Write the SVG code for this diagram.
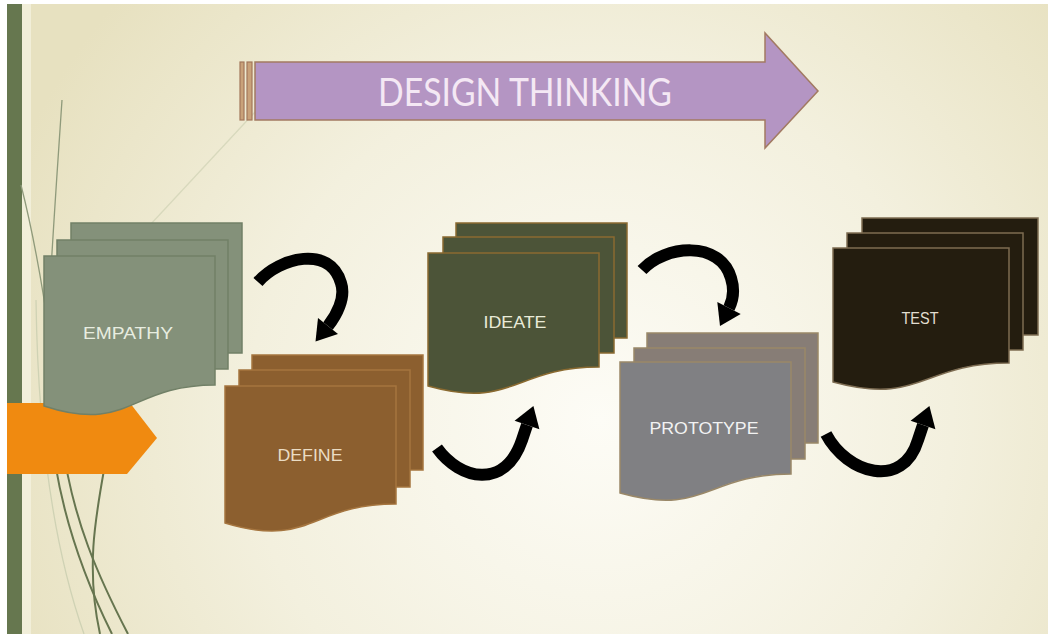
<svg xmlns="http://www.w3.org/2000/svg" width="1048" height="634" viewBox="0 0 1048 634">
  <defs>
    <radialGradient id="bg" cx="600" cy="420" r="640" gradientUnits="userSpaceOnUse">
      <stop offset="0" stop-color="#fdfcf6"/>
      <stop offset="0.55" stop-color="#f3f0de"/>
      <stop offset="1" stop-color="#e7e1c0"/>
    </radialGradient>
    <style>
      .label { font-family: "Liberation Sans", "DejaVu Sans", sans-serif; font-size: 17px; text-anchor: middle; }
      .title { font-family: "Lato", "Liberation Sans", sans-serif; font-size: 39px; text-anchor: middle; fill: #f4e8f4; }
      .wisp { fill: none; stroke: #66754f; stroke-width: 2; }
      .wisp-light { fill: none; stroke: #8f9a7b; stroke-width: 1.3; }
      .wisp-faint { fill: none; stroke: #cfd2b4; stroke-width: 1.3; }
      .flow { fill: none; stroke: #000; stroke-width: 12; stroke-linecap: butt; stroke-linejoin: round; }
      .head { fill: #000; }
      .page { stroke-width: 1.5; }
    </style>
  </defs>

  <!-- page background -->
  <rect width="1048" height="634" fill="#ffffff"/>
  <rect x="7" y="4" width="1041" height="630" fill="url(#bg)"/>
  <rect x="22" y="4" width="9" height="630" fill="#f5f3e2" opacity="0.7"/>
  <rect x="7" y="4" width="15" height="630" fill="#66774f"/>

  <!-- wispy decoration lines -->
  <g id="decoration">
    <path class="wisp-faint" d="M255,112 L150,225" opacity="0.7"/>
    <path class="wisp-faint" d="M36,300 C38,450 58,560 84,634"/>
    <path class="wisp-light" d="M62,100 C52,250 42,380 50,420"/>
    <path class="wisp" d="M50,420 C56,500 80,570 112,634"/>
    <path class="wisp-light" d="M21,185 C45,280 56,380 62,440"/>
    <path class="wisp" d="M62,440 C72,520 100,580 128,634"/>
    <path class="wisp" stroke-width="1.5" d="M104,470 C95,520 86,570 100,634"/>
  </g>

  <!-- title banner arrow -->
  <g id="title">
    <rect x="240" y="62" width="4" height="58" fill="#c9a27a" stroke="#a3775a" stroke-width="1.2"/>
    <rect x="247" y="62" width="5" height="58" fill="#c9a27a" stroke="#a3775a" stroke-width="1.2"/>
    <polygon points="255,62 765,62 765,33 818,91 765,148 765,120 255,120" fill="#b495c3" stroke="#a27a62" stroke-width="1.5"/>
    <text class="title" x="525" y="106" textLength="294" lengthAdjust="spacingAndGlyphs">DESIGN THINKING</text>
  </g>

  <!-- orange start marker -->
  <g id="start">
    <polygon points="7,403 130,403 157,438 127,474 7,474" fill="#f08a10"/>
  </g>

  <!-- EMPATHY -->
  <g id="empathy">
    <rect class="page" x="71" y="223" width="171" height="130" fill="#84917a" stroke="#718067"/>
    <rect class="page" x="57" y="240" width="171" height="129" fill="#84917a" stroke="#718067"/>
    <path class="page" d="M44,256 H215 V385 C129.5,385 129.5,434 44,406 Z" fill="#84917a" stroke="#718067"/>
    <text class="label" x="128" y="339" fill="#e8ede0" textLength="90" lengthAdjust="spacingAndGlyphs">EMPATHY</text>
  </g>

  <!-- DEFINE -->
  <g id="define">
    <rect class="page" x="252" y="355" width="171" height="115" fill="#8c5f2f" stroke="#a5753f"/>
    <rect class="page" x="239" y="370" width="171" height="117" fill="#8c5f2f" stroke="#a5753f"/>
    <path class="page" d="M225,386 H396 V504 C310.5,504 310.5,549 225,523 Z" fill="#8c5f2f" stroke="#a5753f"/>
    <text class="label" x="310" y="461" fill="#eadcc4" textLength="65" lengthAdjust="spacingAndGlyphs">DEFINE</text>
  </g>

  <!-- IDEATE -->
  <g id="ideate">
    <rect class="page" x="456" y="223" width="171" height="115" fill="#4c5438" stroke="#8a6a30"/>
    <rect class="page" x="443" y="237" width="171" height="116" fill="#4c5438" stroke="#8a6a30"/>
    <path class="page" d="M428,253 H599 V367 C513.5,367 513.5,410 428,386 Z" fill="#4c5438" stroke="#8a6a30"/>
    <text class="label" x="515" y="328" fill="#e9ebd8" textLength="63" lengthAdjust="spacingAndGlyphs">IDEATE</text>
  </g>

  <!-- PROTOTYPE -->
  <g id="prototype">
    <rect class="page" x="647" y="333" width="171" height="110" fill="#877d76" stroke="#9a8868"/>
    <rect class="page" x="634" y="348" width="171" height="111" fill="#877d76" stroke="#9a8868"/>
    <path class="page" d="M620,362 H791 V474 C705.5,474 705.5,517 620,493 Z" fill="#808083" stroke="#9a8868"/>
    <text class="label" x="704" y="434" fill="#f2f2f2" textLength="109" lengthAdjust="spacingAndGlyphs">PROTOTYPE</text>
  </g>

  <!-- TEST -->
  <g id="test">
    <rect class="page" x="862" y="218" width="176" height="117" fill="#241d0f" stroke="#7d6c52"/>
    <rect class="page" x="847" y="233" width="176" height="117" fill="#241d0f" stroke="#7d6c52"/>
    <path class="page" d="M833,248 H1009 V363 C921,363 921,406 833,382 Z" fill="#241d0f" stroke="#7d6c52"/>
    <text class="label" x="920" y="324" fill="#e2ddd0" textLength="37" lengthAdjust="spacingAndGlyphs">TEST</text>
  </g>

  <!-- curved flow arrows between stages -->
  <g id="connectors">
    <path class="flow" d="M258,282 C280,257 330,245 341,283 C346,298 336,316 328,326"/>
    <polygon class="head" points="318,318 338,334 315.5,341.6"/>

    <path class="flow" d="M437,448 C460,480 505,490 522,440 L527,425"/>
    <polygon class="head" points="514.6,420.8 539.4,429.2 533.4,406"/>

    <path class="flow" d="M642,270 C665,245 720,240 731,278 C735,291 733,300 729,308"/>
    <polygon class="head" points="717.3,302.1 740.7,313.9 720,326"/>

    <path class="flow" d="M826,434 C847,474 903,490 918,440 L923,425"/>
    <polygon class="head" points="910.6,420.8 935.4,429.2 929.4,406"/>
  </g>
</svg>
